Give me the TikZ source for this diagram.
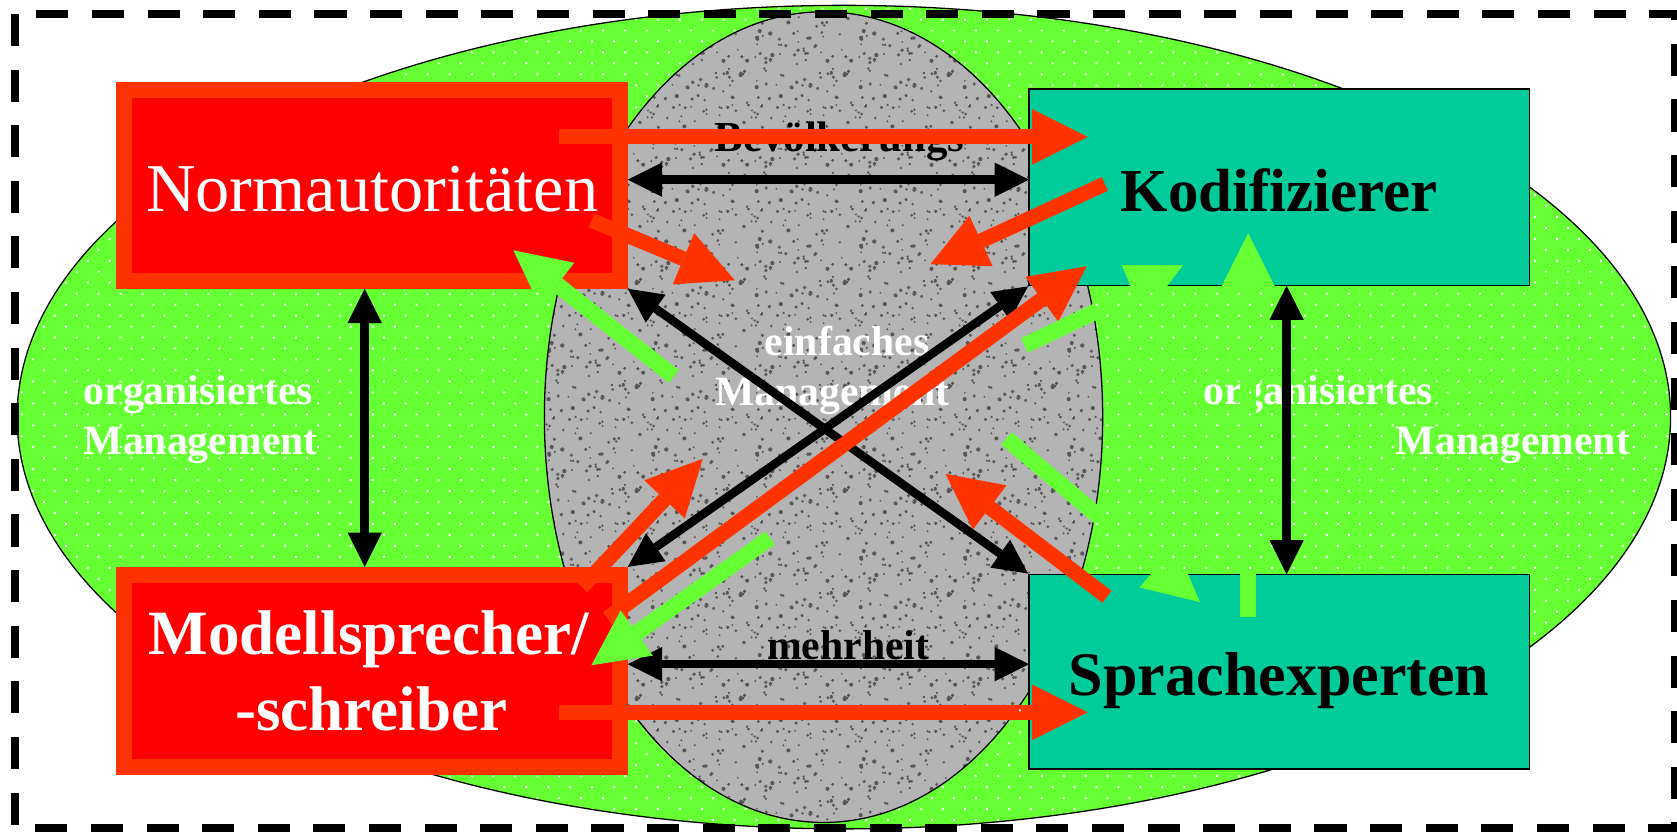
\documentclass[tikz,border=0pt]{standalone}
\usepackage{fontspec}
\setmainfont{Liberation Serif}
\usetikzlibrary{arrows.meta,patterns.meta}
\definecolor{ellgreen}{HTML}{66FF33}
\definecolor{boxred}{HTML}{FF0000}
\definecolor{orred}{HTML}{FF3300}
\definecolor{tealbox}{HTML}{00CC99}
\definecolor{noisegray}{RGB}{180,180,180}
\pgfdeclarepatternformonly{noisedark}{\pgfpoint{0pt}{0pt}}{\pgfpoint{120pt}{120pt}}{\pgfpoint{120pt}{120pt}}{%
  \pgfmathsetseed{101}%
  \foreach \i in {1,...,700}{%
    \pgfmathsetmacro{\px}{120*rnd}%
    \pgfmathsetmacro{\py}{120*rnd}%
    \pgfmathsetmacro{\pr}{0.7+1.3*rnd}%
    \pgfpathcircle{\pgfpoint{\px pt}{\py pt}}{\pr pt}%
    \pgfusepath{fill}%
  }%
}
\pgfdeclarepatternformonly{noisedarktwo}{\pgfpoint{0pt}{0pt}}{\pgfpoint{97pt}{97pt}}{\pgfpoint{97pt}{97pt}}{%
  \pgfmathsetseed{202}%
  \foreach \i in {1,...,110}{%
    \pgfmathsetmacro{\px}{97*rnd}%
    \pgfmathsetmacro{\py}{97*rnd}%
    \pgfmathsetmacro{\pr}{0.9+1.1*rnd}%
    \pgfpathcircle{\pgfpoint{\px pt}{\py pt}}{\pr pt}%
    \pgfusepath{fill}%
  }%
}
\pgfdeclarepatternformonly{noiselight}{\pgfpoint{0pt}{0pt}}{\pgfpoint{110pt}{110pt}}{\pgfpoint{110pt}{110pt}}{%
  \pgfmathsetseed{303}%
  \foreach \i in {1,...,650}{%
    \pgfmathsetmacro{\px}{110*rnd}%
    \pgfmathsetmacro{\py}{110*rnd}%
    \pgfmathsetmacro{\pr}{0.7+1.3*rnd}%
    \pgfpathcircle{\pgfpoint{\px pt}{\py pt}}{\pr pt}%
    \pgfusepath{fill}%
  }%
}
\begin{document}
\begin{tikzpicture}[x=1pt,y=-1pt,
  redbox/.style={draw=orred, fill=boxred, line width=15pt, minimum width=464pt, inner sep=0pt},
  tbox/.style={draw=black, fill=tealbox, line width=1.5pt, minimum width=468pt, inner sep=0pt},
  redarr/.style={draw=orred, line width=14pt, -{Triangle[length=52pt,width=52pt,line width=0pt]}},
  greenarr/.style={draw=ellgreen, line width=15pt, -{Triangle[length=52pt,width=52pt,line width=0pt]}},
  blackarr/.style={draw=black, line width=8pt, {Triangle[length=32pt,width=32pt,line width=0pt]}-{Triangle[length=32pt,width=32pt,line width=0pt]}},
  bigwhite/.style={text=white, inner sep=0pt, anchor=base},
  lbl/.style={font=\fontsize{39}{44}\selectfont\bfseries, inner sep=0pt},
]
\useasboundingbox (0,0) rectangle (1568,777);
% green ellipse
\fill[ellgreen] (789,390) ellipse [x radius=773, y radius=385];
\draw[line width=1.2pt] (789,390) ellipse [x radius=773, y radius=385];
% grey noisy ellipse
\fill[noisegray] (770,390) ellipse [x radius=261, y radius=379];
\fill[pattern=noisedark, pattern color=black!55] (770,390) ellipse [x radius=261, y radius=379];
\fill[pattern=noisedarktwo, pattern color=black!66] (770,390) ellipse [x radius=261, y radius=379];
\fill[pattern=noiselight, pattern color=white!88!black] (770,390) ellipse [x radius=261, y radius=379];
\draw[line width=1.2pt] (770,390) ellipse [x radius=261, y radius=379];
% boxes
\node[redbox, minimum height=178pt] (NA) at (347.5,173.5) {};
\node[redbox, minimum height=180pt] (MS) at (347.5,627.5) {};
\node[tbox, minimum height=184pt] (KO) at (1196,175) {};
\node[tbox, minimum height=182pt] (SE) at (1196,628) {};
% box texts
\node[bigwhite, font=\fontsize{64}{70}\selectfont] (NAt) at (348,198) {Normautoritäten};
\node[bigwhite, font=\fontsize{59}{66}\selectfont\bfseries] (MSt1) at (345,612) {Modellsprecher/};
\node[bigwhite, font=\fontsize{59}{66}\selectfont\bfseries] (MSt2) at (347,683) {-schreiber};
\node[inner sep=0pt, anchor=base, font=\fontsize{57}{64}\selectfont\bfseries] (KOt) at (1196,198) {Kodifizierer};
\node[inner sep=0pt, anchor=base, font=\fontsize{58}{64}\selectfont\bfseries] (SEt) at (1196,650) {Sprachexperten};
% labels
\node[lbl, text=white, anchor=base west] (ol1) at (78,378) {organisiertes};
\node[lbl, text=white, anchor=base west] (ol2) at (78,425) {Management};
\node[lbl, text=white, anchor=base west] (or1) at (1125,378) {organisiertes};
\node[lbl, text=white, anchor=base west] (or2) at (1305,425) {Management};
\node[lbl, text=white, anchor=base] (em1) at (792,332) {einfaches};
\node[lbl, text=white, anchor=base] (em2) at (778,379) {Management};
\node[lbl, anchor=base, font=\fontsize{40}{44}\selectfont\bfseries] (bev) at (785,142) {Bevölkerungs};
\node[lbl, anchor=base] (meh) at (793,617) {mehrheit};
% coordinates
\coordinate (a1s) at (523,128); \coordinate (a1e) at (1017,128);
\coordinate (a2s) at (587,168); \coordinate (a2e) at (962,168);
\coordinate (a3s) at (553,206); \coordinate (a3e) at (687,262);
\coordinate (a4s) at (1033,172); \coordinate (a4e) at (870,247);
\coordinate (a5s) at (630,352); \coordinate (a5e) at (480,234);
\coordinate (a8s) at (568,578); \coordinate (a8e) at (1016,249);
\coordinate (a9s) at (544,549); \coordinate (a9e) at (657,429);
\coordinate (a10s) at (720,503); \coordinate (a10e) at (553,622);
\coordinate (a11s) at (587,621); \coordinate (a11e) at (962,621);
\coordinate (a12s) at (523,666); \coordinate (a12e) at (1017,666);
\coordinate (a13s) at (1035,558); \coordinate (a13e) at (884,443);
\coordinate (a14s) at (941,410); \coordinate (a14e) at (1122,563);
\coordinate (a15s) at (958,323); \coordinate (a15e) at (1069,270);
\coordinate (t1) at (1049,248); \coordinate (t2) at (1106,248); \coordinate (t3) at (1069,297);
\coordinate (a16s) at (1167,577); \coordinate (a16e) at (1167,218);
\coordinate (a17s) at (1203,267); \coordinate (a17e) at (1203,537);
\coordinate (a18s) at (341,270); \coordinate (a18e) at (341,530);
% black arrows in the grey area
\draw[blackarr] (a2s) -- (a2e);
\draw[blackarr] (NA.south east) -- (SE.north west);
\draw[blackarr] (MS.north east) -- (KO.south west);
\draw[blackarr] (a11s) -- (a11e);
% red arrows
\draw[redarr] (a1s) -- (a1e);
\draw[redarr] (a3s) -- (a3e);
\draw[redarr] (a4s) -- (a4e);
\draw[redarr] (a8s) -- (a8e);
\draw[redarr] (a9s) -- (a9e);
\draw[redarr] (a12s) -- (a12e);
\draw[redarr] (a13s) -- (a13e);
% green arrows
\draw[greenarr] (a5s) -- (a5e);
\draw[greenarr] (a10s) -- (a10e);
\draw[greenarr] (a14s) -- (a14e);
\draw[greenarr] (a16s) -- (a16e);
\draw[draw=ellgreen, line width=15pt] (a15s) -- (a15e);
\fill[ellgreen] (t1) -- (t2) -- (t3) -- cycle;
% white dots over the green area
\begin{scope}[even odd rule]
  \clip (789,390) ellipse [x radius=772, y radius=384];
  \clip (0,0) rectangle (1568,777) (770,390) ellipse [x radius=262, y radius=380];
  \clip (0,0) rectangle (1568,777) (108,77) rectangle (587,270);
  \clip (0,0) rectangle (1568,777) (108,530) rectangle (587,725);
  \clip (0,0) rectangle (1568,777) (961,82) rectangle (1431,268);
  \clip (0,0) rectangle (1568,777) (961,536) rectangle (1431,720);
  \fill[pattern={Dots[distance=14.5pt, radius=1.3pt, angle=45]}, pattern color=white] (0,0) rectangle (1568,777);
\end{scope}
% black vertical arrows
\draw[blackarr] (a17s) -- (a17e);
\draw[blackarr] (a18s) -- (a18e);
% dashed frame
\draw[line width=7pt, dash pattern=on 30pt off 22pt] (14,13) rectangle (1566,774);
\end{tikzpicture}
\end{document}
